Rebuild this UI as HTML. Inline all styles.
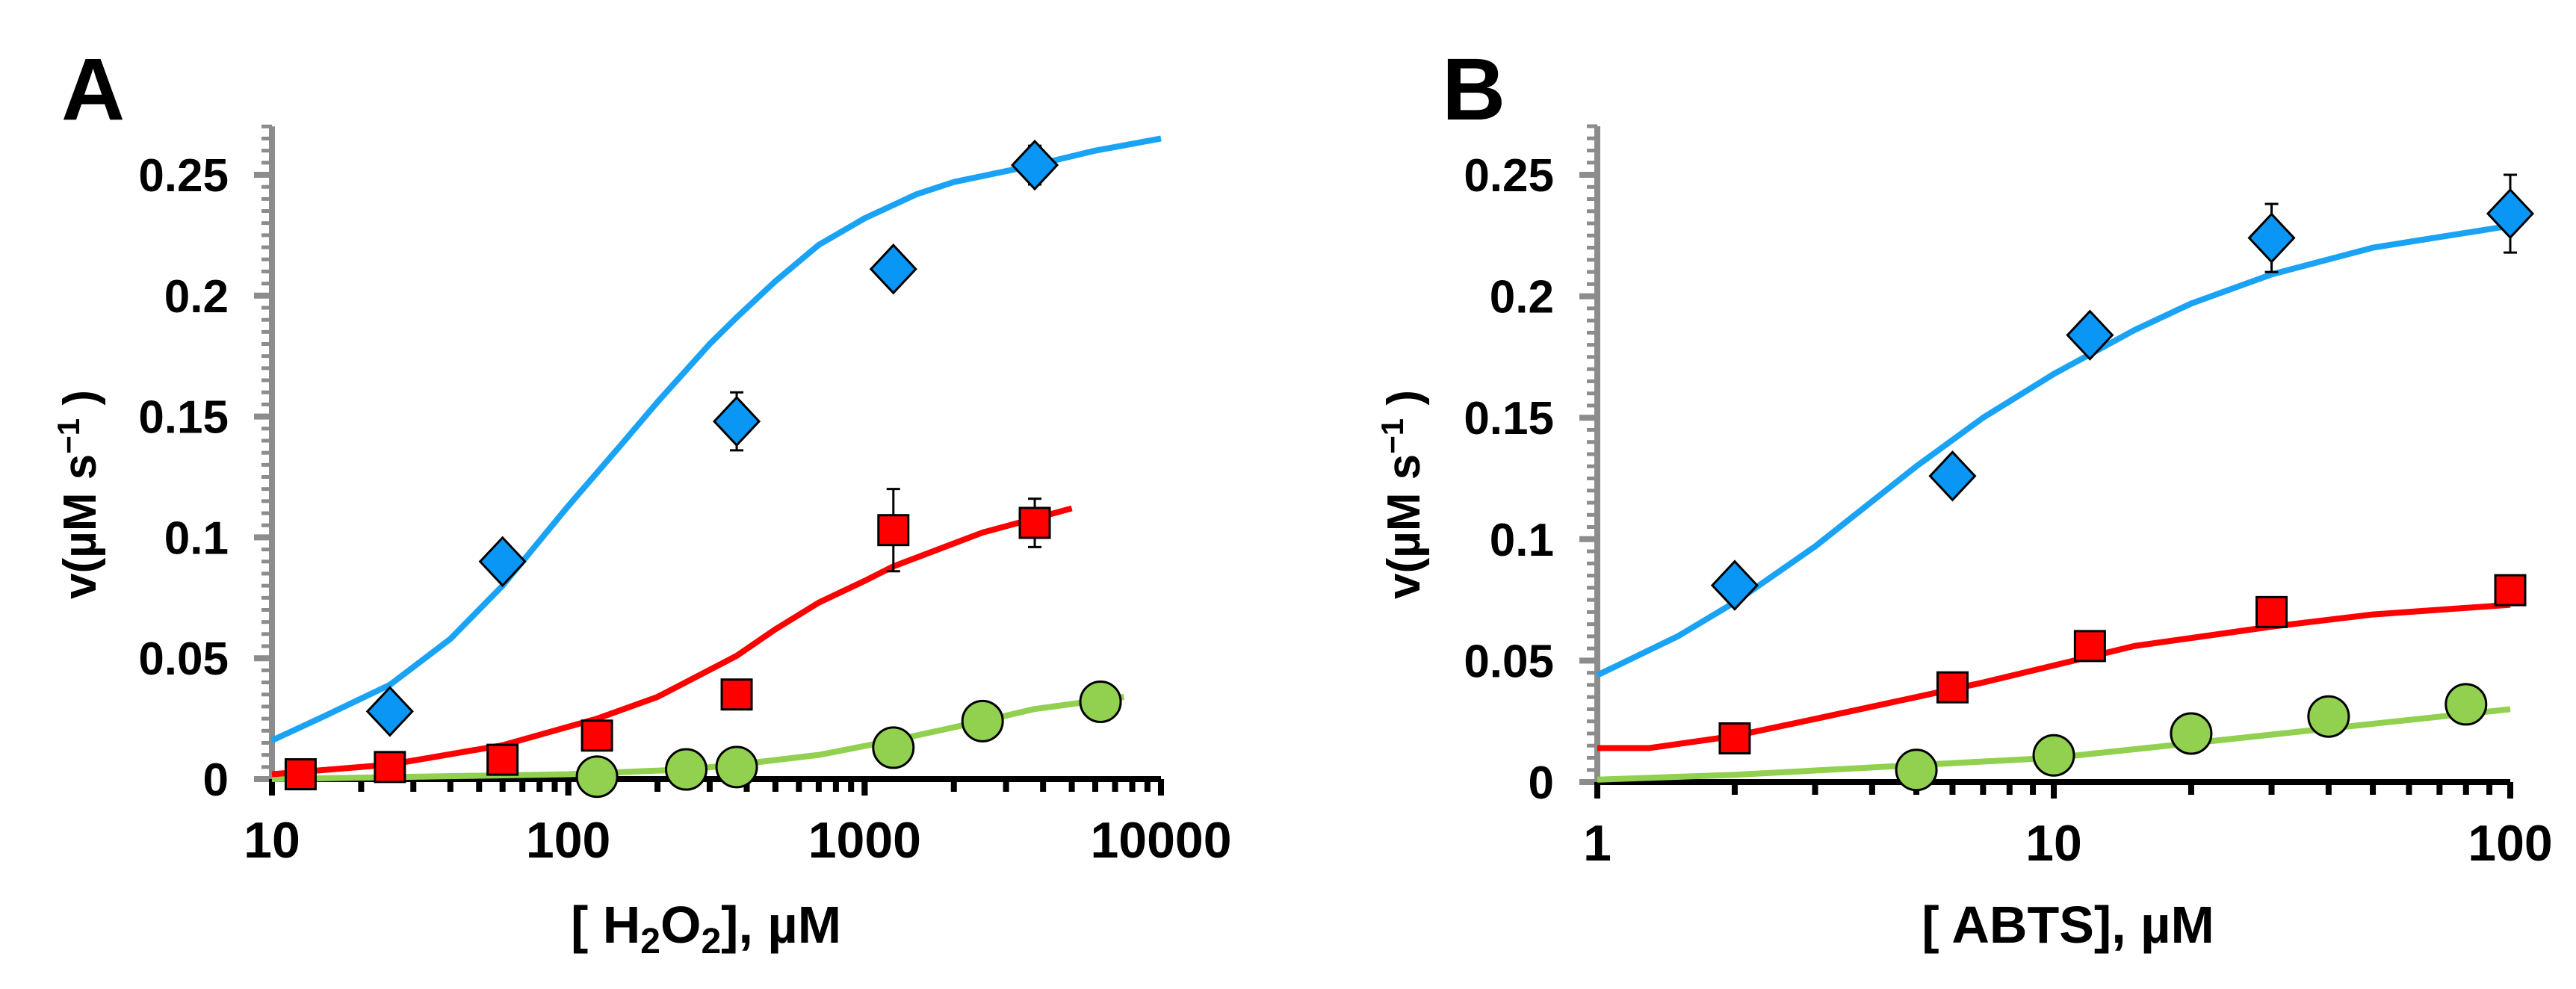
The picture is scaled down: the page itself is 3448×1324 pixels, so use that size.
<!DOCTYPE html>
<html><head><meta charset="utf-8"><style>
html,body{margin:0;padding:0;background:#fff;}
svg{display:block;font-family:"Liberation Sans",sans-serif;font-weight:bold;}
</style></head><body>
<svg id="chart" width="3448" height="1324" viewBox="0 0 3448 1324" xmlns="http://www.w3.org/2000/svg"></svg>
<script>
// ---- Panel A data (H2O2) ----
const aBlueX = [25, 60, 370, 1250, 3750];
const aBlueY = [0.028, 0.090, 0.148, 0.211, 0.254];
const aBlueErr = [0.002, 0.004, 0.012, 0.002, 0.008];
const aRedX = [12.5, 25, 60, 125, 370, 1250, 3750];
const aRedY = [0.002, 0.005, 0.008, 0.018, 0.035, 0.103, 0.106];
const aRedErr = [0, 0, 0, 0, 0.003, 0.017, 0.010];
const aGreenX = [125, 250, 370, 1250, 2500, 6250];
const aGreenY = [0.001, 0.004, 0.005, 0.013, 0.024, 0.032];
const aBlueFitX = [10, 15, 25, 40, 60, 100, 150, 200, 300, 370, 500, 700, 1000, 1500, 2000, 3750, 6000, 10000];
const aBlueFitY = [0.016, 0.026, 0.039, 0.058, 0.080, 0.113, 0.138, 0.156, 0.180, 0.191, 0.206, 0.221, 0.232, 0.242, 0.247, 0.254, 0.260, 0.265];
const aRedFitX = [10, 25, 60, 125, 200, 370, 500, 700, 1000, 1250, 2500, 5000];
const aRedFitY = [0.002, 0.006, 0.014, 0.025, 0.034, 0.051, 0.062, 0.073, 0.082, 0.088, 0.102, 0.112];
const aGreenFitX = [10, 100, 250, 370, 700, 1250, 2500, 3750, 7500];
const aGreenFitY = [0.000, 0.002, 0.004, 0.006, 0.010, 0.016, 0.024, 0.029, 0.034];
const aXTicks = [10, 100, 1000, 10000];
const aXTickLabels = ["10", "100", "1000", "10000"];

// ---- Panel B data (ABTS) ----
const bBlueX = [2, 6, 12, 30, 100];
const bBlueY = [0.081, 0.126, 0.184, 0.224, 0.234];
const bBlueErr = [0.002, 0.004, 0.002, 0.014, 0.016];
const bRedX = [2, 6, 12, 30, 100];
const bRedY = [0.018, 0.039, 0.056, 0.070, 0.079];
const bGreenX = [5, 10, 20, 40, 80];
const bGreenY = [0.005, 0.011, 0.020, 0.027, 0.032];
const bBlueFitX = [1, 1.5, 2, 3, 5, 7, 10, 15, 20, 30, 50, 100];
const bBlueFitY = [0.044, 0.060, 0.074, 0.097, 0.130, 0.150, 0.168, 0.186, 0.197, 0.209, 0.220, 0.229];
const bRedFitX = [1, 1.3, 2, 3, 5, 7, 10, 15, 30, 50, 100];
const bRedFitY = [0.014, 0.014, 0.019, 0.026, 0.035, 0.041, 0.048, 0.056, 0.064, 0.069, 0.073];
const bGreenFitX = [1, 2, 5, 10, 20, 50, 100];
const bGreenFitY = [0.001, 0.003, 0.007, 0.010, 0.016, 0.024, 0.030];
const bXTicks = [1, 10, 100];
const bXTickLabels = ["1", "10", "100"];

const yTicks = [0, 0.05, 0.1, 0.15, 0.2, 0.25];
const yTickLabels = ["0", "0.05", "0.1", "0.15", "0.2", "0.25"];

const NS = "http://www.w3.org/2000/svg";
const svg = document.getElementById("chart");
function mk(tag, attrs, parent) {
  const e = document.createElementNS(NS, tag);
  for (const k in attrs) e.setAttribute(k, attrs[k]);
  (parent || svg).appendChild(e);
  return e;
}

function panel(cfg) {
  const g = mk("g", {});
  
  
  const xs = v => cfg.x0 + (Math.log10(v) - Math.log10(cfg.xmin)) / (Math.log10(cfg.xmax) - Math.log10(cfg.xmin)) * (cfg.x1 - cfg.x0);
  const ys = v => cfg.y0 - v / 0.25 * (cfg.y0 - cfg.y25);
  const yTop = ys(0.27);

  for (let v = 0; v <= 0.2701; v += 0.005) {
    const t = mk("line", {x1: cfg.x0 - 14, x2: cfg.x0, y1: ys(v), y2: ys(v), stroke: "#8c8c8c", "stroke-width": 5}, g);
    
    
  }
  yTicks.forEach((v, i) => {
    const t = mk("line", {x1: cfg.x0 - 24, x2: cfg.x0, y1: ys(v), y2: ys(v), stroke: "#8c8c8c", "stroke-width": 8}, g);
    
    
    const l = mk("text", {x: cfg.x0 - 58, y: ys(v) + 22, "text-anchor": "end", "font-size": 62, fill: "#000"}, g);
    l.textContent = yTickLabels[i];
    
    
  });
  const ya = mk("line", {x1: cfg.x0, x2: cfg.x0, y1: yTop, y2: cfg.y0, stroke: "#8c8c8c", "stroke-width": 8}, g);
  
  

  const xa = mk("line", {x1: cfg.x0, x2: cfg.x1, y1: cfg.y0, y2: cfg.y0, stroke: "#000", "stroke-width": 8}, g);
  
  
  for (let d = cfg.xmin; d < cfg.xmax; d *= 10) {
    for (let m = 1; m <= 10; m++) {
      const v = d * m;
      const t = mk("line", {x1: xs(v), x2: xs(v), y1: cfg.y0, y2: cfg.y0 + (m === 1 || m === 10 ? 22 : 17), stroke: "#000", "stroke-width": 8}, g);
      
      
    }
  }
  cfg.xTicks.forEach((v, i) => {
    const l = mk("text", {x: xs(v), y: cfg.y0 + 105, "text-anchor": "middle", "font-size": 68, fill: "#000"}, g);
    l.textContent = cfg.xTickLabels[i];
    
    
  });

  const xt = mk("text", {x: cfg.xTitleX, y: 1262, "text-anchor": "middle", "font-size": 70, fill: "#000"}, g);
  xt.innerHTML = cfg.xTitle;
  
  
  const yt = mk("text", {x: 0, y: 0, "text-anchor": "middle", "font-size": 62, fill: "#000", transform: `translate(${cfg.yTitleX},${662}) rotate(-90)`}, g);
  yt.innerHTML = 'v(µM s<tspan dy="-22" font-size="42">−1</tspan><tspan dy="22"> )</tspan>';
  
  
  const pl = mk("text", {x: cfg.labelX, y: 160, "font-size": 118, fill: "#000"}, g);
  pl.textContent = cfg.label;
  
  

  const curve = (X, Y, color, name) => {
    const p = mk("polyline", {points: X.map((x, i) => xs(x) + "," + ys(Y[i])).join(" "), fill: "none", stroke: color, "stroke-width": 8, "stroke-linejoin": "round"}, g);
    
    
  };
  curve(cfg.gfX, cfg.gfY, "#92d050", "green-fit-curve");
  curve(cfg.rfX, cfg.rfY, "#ff0000", "red-fit-curve");
  curve(cfg.bfX, cfg.bfY, "#1aa3f5", "blue-fit-curve");

  const err = (x, y, e) => {
    if (!e) return;
    const cx = xs(x);
    const eb = mk("path", {d: `M${cx},${ys(y + e)}V${ys(y - e)}M${cx - 9},${ys(y + e)}H${cx + 9}M${cx - 9},${ys(y - e)}H${cx + 9}`, stroke: "#000", "stroke-width": 3, fill: "none"}, g);
    
    
  };

  cfg.gX.forEach((x, i) => {
    const c = mk("ellipse", {cx: xs(x), cy: ys(cfg.gY[i]), rx: 27, ry: 27, fill: "#92d050", stroke: "#000", "stroke-width": 3}, g);
    
    
  });
  cfg.rX.forEach((x, i) => {
    err(x, cfg.rY[i], cfg.rE ? cfg.rE[i] : 0);
    const cx = xs(x), cy = ys(cfg.rY[i]);
    const r = mk("rect", {x: cx - 20, y: cy - 20, width: 40, height: 40, fill: "#ff0000", stroke: "#000", "stroke-width": 3}, g);
    
    
  });
  cfg.bX.forEach((x, i) => {
    err(x, cfg.bY[i], cfg.bE[i]);
    const cx = xs(x), cy = ys(cfg.bY[i]);
    const d = mk("polygon", {points: `${cx},${cy - 32} ${cx + 30},${cy} ${cx},${cy + 32} ${cx - 30},${cy}`, fill: "#0a96f5", stroke: "#000", "stroke-width": 3}, g);
    
    
  });
}

panel({name: "panel-a", label: "A", labelX: 82, x0: 364, x1: 1554, xmin: 10, xmax: 10000, y0: 1043, y25: 234,
  xTicks: aXTicks, xTickLabels: aXTickLabels, xTitleX: 945, yTitleX: 128,
  xTitle: '[ H<tspan dy="14" font-size="48">2</tspan><tspan dy="-14">O</tspan><tspan dy="14" font-size="48">2</tspan><tspan dy="-14">], µM</tspan>',
  bX: aBlueX, bY: aBlueY, bE: aBlueErr, rX: aRedX, rY: aRedY, rE: aRedErr, gX: aGreenX, gY: aGreenY,
  bfX: aBlueFitX, bfY: aBlueFitY, rfX: aRedFitX, rfY: aRedFitY, gfX: aGreenFitX, gfY: aGreenFitY});

panel({name: "panel-b", label: "B", labelX: 1930, x0: 2138, x1: 3360, xmin: 1, xmax: 100, y0: 1047, y25: 234,
  xTicks: bXTicks, xTickLabels: bXTickLabels, xTitleX: 2768, yTitleX: 1900,
  xTitle: '[ ABTS], µM',
  bX: bBlueX, bY: bBlueY, bE: bBlueErr, rX: bRedX, rY: bRedY, rE: null, gX: bGreenX, gY: bGreenY,
  bfX: bBlueFitX, bfY: bBlueFitY, rfX: bRedFitX, rfY: bRedFitY, gfX: bGreenFitX, gfY: bGreenFitY});
</script>
</body></html>
